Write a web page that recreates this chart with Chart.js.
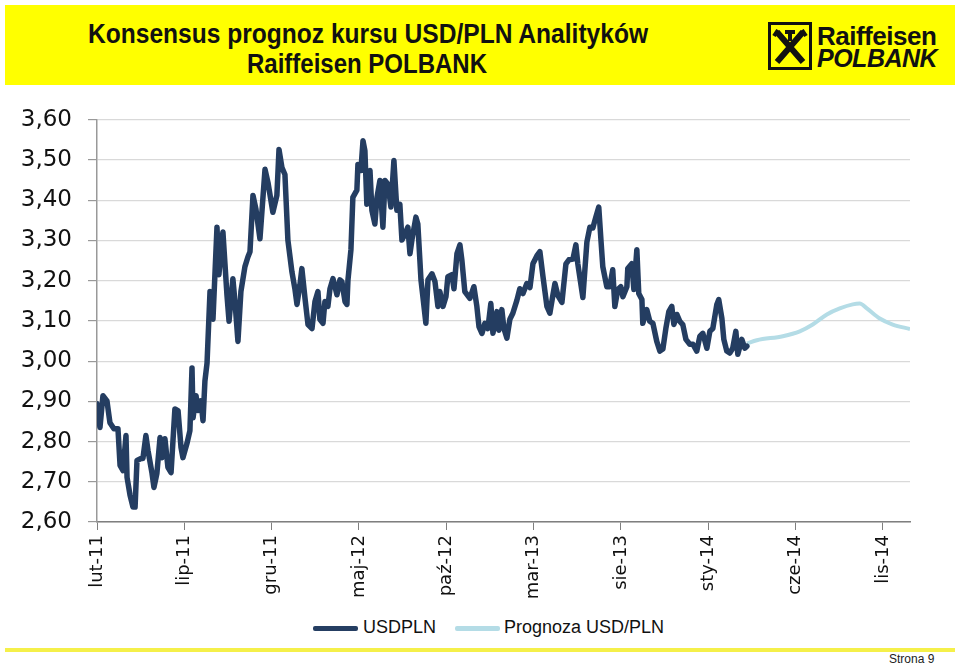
<!DOCTYPE html>
<html><head><meta charset="utf-8">
<script src="https://cdn.jsdelivr.net/npm/chart.js@4.4.1/dist/chart.umd.min.js"></script>
<style>
html,body{margin:0;padding:0;background:#fff;width:960px;height:665px;overflow:hidden;font-family:"Liberation Sans",Arial,sans-serif;}
#band{position:absolute;left:5px;top:5px;width:950px;height:80px;background:#ffff00;}
.tl{position:absolute;white-space:nowrap;font-family:"Liberation Sans",Arial,sans-serif;font-weight:bold;font-size:27px;line-height:30px;color:#111;transform-origin:0 0;}
#logo{position:absolute;left:768px;top:22px;}
#logoT1{position:absolute;left:817px;top:21px;font-weight:bold;font-size:26px;color:#111;letter-spacing:-0.5px;}
#logoT2{position:absolute;left:817px;top:44px;font-weight:bold;font-style:italic;font-size:25px;color:#111;letter-spacing:-0.5px;}
#wrap{position:absolute;left:0;top:90px;width:960px;height:520px;}
#legend{position:absolute;top:616px;left:0;width:960px;height:24px;font-size:18px;color:#111;}
.ls{position:absolute;top:10px;height:5px;border-radius:2px;}
.lt{position:absolute;top:1px;}
#foot{position:absolute;left:5px;top:648px;width:950px;height:4px;background:#f5f04a;}
#page{position:absolute;left:889px;top:652px;font-size:12px;color:#222;}
</style></head>
<body>
<div id="band"></div>
<div id="t1" class="tl">Konsensus prognoz kursu USD/PLN Analityków</div>
<div id="t2" class="tl">Raiffeisen POLBANK</div>
<svg id="logo" width="44" height="48" viewBox="0 0 44 48">
  <rect x="1.5" y="1.5" width="41" height="45" fill="#ffff00" stroke="#111" stroke-width="3"/>
  <path d="M9 10 L35 40 M35 10 L9 40" stroke="#111" stroke-width="6" fill="none"/>
  <path d="M22 19 L22 8 M17 10 L27 10" stroke="#111" stroke-width="4" fill="none"/>
  <path d="M6 14 L10 8 M38 14 L34 8" stroke="#111" stroke-width="4" fill="none"/>
</svg>
<div id="logoT1">Raiffeisen</div>
<div id="logoT2">POLBANK</div>
<div id="wrap"><canvas id="c" width="960" height="520"></canvas></div>
<div id="legend">
  <div class="ls" style="left:313px;width:45px;background:#253e62;"></div>
  <div class="lt" style="left:363px;">USDPLN</div>
  <div class="ls" style="left:455px;width:45px;background:#b4dce6;"></div>
  <div class="lt" style="left:504px;">Prognoza USD/PLN</div>
</div>
<div id="foot"></div>
<div id="page">Strona 9</div>
<script>
// fit title lines (condensed look)
(function(){
  const fit=(id,left,right,top)=>{
    const el=document.getElementById(id);
    const w=el.getBoundingClientRect().width;
    const s=(right-left)/w;
    el.style.left=left+'px';el.style.top=top+'px';
    el.style.transform='scaleX('+s+')';
  };
  fit('t1',88,648,19);
  fit('t2',247,487,49);
})();

// months since Feb 2011 (0 = lut-11)
const tickLabels = ['lut-11','lip-11','gru-11','maj-12','paź-12','mar-13','sie-13','sty-14','cze-14','lis-14'];
const usdMonths = [0.00,0.17,0.34,0.57,0.74,0.97,1.20,1.32,1.49,1.66,1.72,1.89,2.06,2.18,2.29,2.52,2.63,2.80,2.92,3.15,3.26,3.43,3.61,3.72,3.89,4.06,4.24,4.46,4.64,4.81,4.92,5.15,5.32,5.44,5.50,5.67,5.78,5.95,6.07,6.18,6.30,6.47,6.64,6.87,6.98,7.21,7.44,7.56,7.78,7.90,8.07,8.24,8.47,8.64,8.76,8.93,9.10,9.33,9.62,9.79,10.07,10.30,10.42,10.59,10.76,10.93,11.16,11.33,11.45,11.62,11.73,11.91,12.08,12.31,12.48,12.65,12.76,12.94,13.05,13.22,13.34,13.51,13.74,13.91,14.02,14.20,14.31,14.37,14.54,14.65,14.88,14.94,15.11,15.23,15.34,15.45,15.63,15.74,15.91,16.03,16.20,16.37,16.49,16.66,16.83,17.00,17.17,17.34,17.46,17.63,17.80,17.92,18.03,18.26,18.37,18.55,18.66,18.83,18.95,19.18,19.35,19.52,19.63,19.81,19.98,20.09,20.32,20.44,20.61,20.78,20.89,21.06,21.35,21.58,21.75,21.87,22.04,22.21,22.38,22.55,22.67,22.90,23.01,23.18,23.30,23.47,23.64,23.81,24.04,24.21,24.39,24.61,24.79,24.96,25.19,25.36,25.53,25.76,25.93,26.10,26.22,26.39,26.62,26.85,27.02,27.25,27.42,27.53,27.70,27.82,28.05,28.22,28.39,28.56,28.73,28.85,28.96,29.19,29.36,29.53,29.65,29.82,29.99,30.11,30.34,30.39,30.62,30.74,30.91,31.02,31.20,31.25,31.48,31.65,31.83,32.05,32.23,32.40,32.57,32.74,32.91,33.03,33.20,33.37,33.54,33.72,33.94,34.12,34.34,34.52,34.69,34.92,35.09,35.26,35.49,35.60,35.78,35.89,36.06,36.23,36.40,36.58,36.69,36.92,37.09,37.21];
const usdValues = [2.894,2.835,2.914,2.901,2.847,2.832,2.832,2.741,2.728,2.815,2.711,2.667,2.637,2.637,2.753,2.758,2.758,2.815,2.778,2.721,2.686,2.721,2.810,2.760,2.807,2.736,2.723,2.881,2.877,2.785,2.760,2.795,2.827,2.983,2.859,2.914,2.877,2.901,2.852,2.951,2.995,3.173,3.104,3.333,3.215,3.321,3.165,3.099,3.205,3.148,3.049,3.173,3.235,3.259,3.272,3.412,3.378,3.304,3.477,3.444,3.370,3.412,3.526,3.481,3.464,3.301,3.222,3.180,3.141,3.190,3.230,3.156,3.091,3.081,3.148,3.173,3.104,3.094,3.148,3.136,3.180,3.205,3.165,3.202,3.198,3.148,3.141,3.202,3.277,3.407,3.425,3.489,3.474,3.548,3.523,3.390,3.474,3.375,3.341,3.407,3.449,3.333,3.449,3.440,3.383,3.499,3.375,3.390,3.301,3.316,3.333,3.267,3.301,3.358,3.341,3.202,3.160,3.094,3.202,3.217,3.198,3.136,3.173,3.136,3.160,3.210,3.215,3.180,3.267,3.289,3.252,3.173,3.156,3.185,3.136,3.086,3.069,3.094,3.081,3.143,3.069,3.123,3.077,3.128,3.081,3.057,3.104,3.119,3.151,3.180,3.168,3.193,3.183,3.242,3.262,3.272,3.212,3.136,3.119,3.163,3.193,3.163,3.146,3.242,3.252,3.254,3.289,3.242,3.193,3.158,3.296,3.333,3.331,3.358,3.383,3.304,3.235,3.185,3.185,3.227,3.136,3.178,3.185,3.160,3.185,3.230,3.242,3.178,3.277,3.168,3.153,3.094,3.128,3.099,3.094,3.049,3.025,3.030,3.081,3.123,3.136,3.091,3.116,3.099,3.091,3.054,3.042,3.042,3.025,3.062,3.069,3.032,3.074,3.081,3.141,3.153,3.106,3.054,3.025,3.020,3.032,3.074,3.017,3.054,3.032,3.037];
const forecastMonths = [37.21,37.78,39.27,40.24,40.98,41.79,42.53,43.27,43.67,44.08,44.82,45.56,46.55];
const forecastValues = [3.044,3.052,3.062,3.074,3.091,3.116,3.131,3.141,3.143,3.131,3.106,3.091,3.080];

const usdData = usdMonths.map((m,i)=>({x:m,y:usdValues[i]}));
const fcData = forecastMonths.map((m,i)=>({x:m,y:forecastValues[i]}));

new Chart(document.getElementById('c'), {
  type:'line',
  data:{datasets:[
    {label:'USDPLN',data:usdData,borderColor:'#243d61',backgroundColor:'#243d61',borderWidth:5.5,pointRadius:0,tension:0,borderJoinStyle:'round',borderCapStyle:'round'},
    {label:'Prognoza USD/PLN',data:fcData,borderColor:'#b4dce6',backgroundColor:'#b4dce6',borderWidth:4,pointRadius:0,cubicInterpolationMode:'monotone'}
  ]},
  options:{
    responsive:false,animation:false,
    layout:{padding:{top:27,right:50,bottom:8,left:0}},
    plugins:{legend:{display:false},tooltip:{enabled:false}},
    scales:{
      x:{type:'linear',min:0,max:46.55,
        afterFit:s=>{s.height=80;},
        border:{color:'#7f7f7f',width:1.5},
        grid:{drawOnChartArea:false,tickLength:8,color:'#7f7f7f',tickColor:'#7f7f7f'},
        ticks:{stepSize:5,includeBounds:false,autoSkip:false,maxRotation:90,minRotation:90,padding:5,color:'#111',
          font:{family:'DejaVu Sans',size:18},
          callback:(v)=>tickLabels[Math.round(v/5)]}
      },
      y:{min:2.6,max:3.6,
        afterFit:s=>{s.width=97;},
        border:{color:'#999',width:1.5},
        grid:{color:'#d9d9d9',lineWidth:1.2,tickLength:9,tickColor:'#999'},
        ticks:{stepSize:0.1,padding:16,color:'#111',font:{family:'DejaVu Sans',size:23},
          callback:(v)=>v.toFixed(2).replace('.',',')}
      }
    }
  }
});
</script>
</body></html>
